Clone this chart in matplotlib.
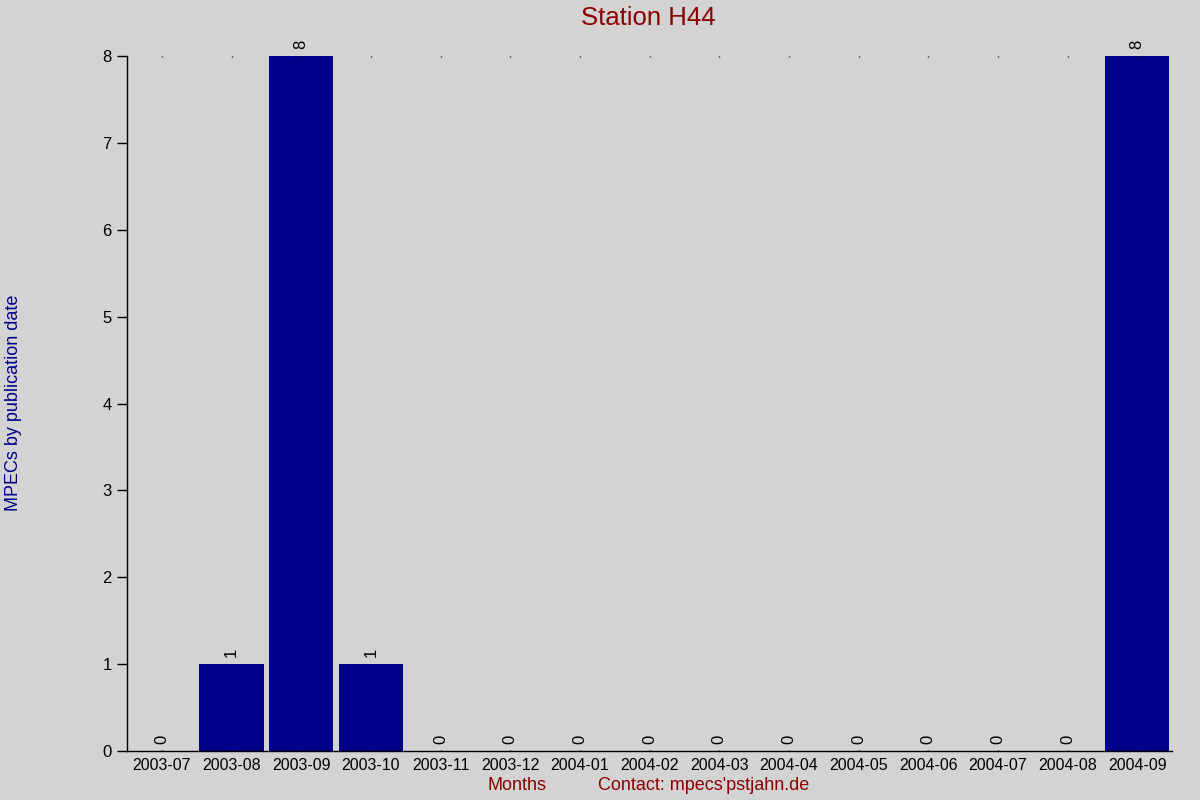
import matplotlib.pyplot as plt

# data
months = ['2003-07', '2003-08', '2003-09', '2003-10', '2003-11', '2003-12',
          '2004-01', '2004-02', '2004-03', '2004-04', '2004-05', '2004-06',
          '2004-07', '2004-08', '2004-09']
counts = [0, 1, 8, 1, 0, 0, 0, 0, 0, 0, 0, 0, 0, 0, 8]

plt.rcParams['font.family'] = ['Liberation Sans', 'DejaVu Sans']

bg = '#d3d3d3'
fig = plt.figure(figsize=(12, 8), dpi=100, facecolor=bg)
ax = fig.add_axes([127 / 1200, 49 / 800, (1172 - 127) / 1200, (751 - 56) / 800])
ax.set_facecolor(bg)

x = list(range(len(months)))
ax.bar(x, counts, width=0.92, color='#00008b')

for xi, c in zip(x, counts):
    ax.annotate(str(c), (xi, c), xytext=(0, 5), textcoords='offset points',
                rotation=90, ha='center', va='bottom', fontsize=12, color='black')

ax.set_xlim(-0.5, len(months) - 0.5)
ax.set_ylim(0, 8)
ax.set_xticks(x)
ax.set_xticklabels(months, fontsize=11.5)
ax.set_yticks(range(9))
ax.tick_params(axis='y', labelsize=12, length=7, width=1, direction='out', pad=4)
ax.tick_params(axis='x', length=0, pad=5)
ax.tick_params(axis='x', top=True, length=1, width=1, direction='in')

for s in ['top', 'right']:
    ax.spines[s].set_visible(False)
ax.spines['left'].set_linewidth(1)
ax.spines['bottom'].set_linewidth(1)

fig.text(0.54, 0.977, 'Station H44', ha='center', va='center', fontsize=18.5, color='#8b0000')
fig.text(0.011, 0.496, 'MPECs by publication date', rotation=90, ha='center', va='center',
         fontsize=13, color='#00008b')
fig.text(517 / 1200, 1 - 786 / 800, 'Months', ha='center', va='center', fontsize=13, color='#8b0000')
fig.text(704 / 1200, 1 - 786 / 800, "Contact: mpecs'pstjahn.de", ha='center', va='center',
         fontsize=13, color='#8b0000')

fig.savefig('out.png', dpi=100, facecolor=bg)
